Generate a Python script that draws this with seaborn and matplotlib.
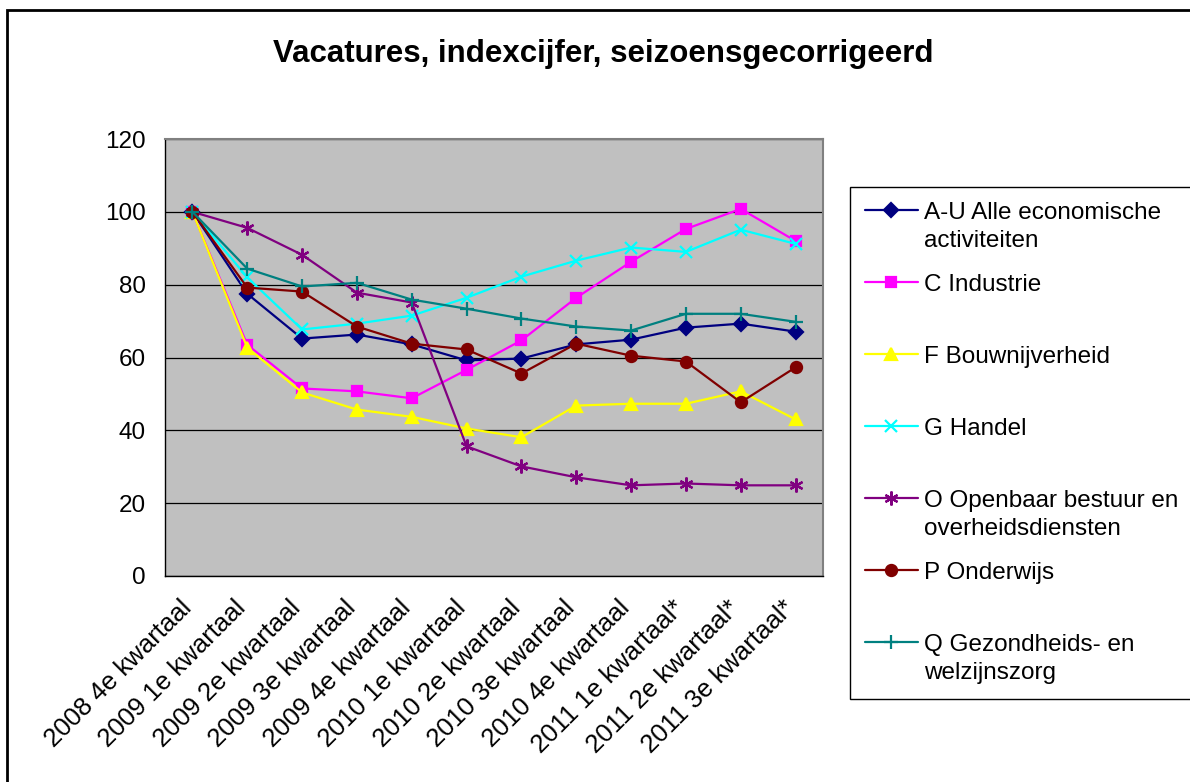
import numpy as np
import pandas as pd
import matplotlib.pyplot as plt
import seaborn as sns
from matplotlib.lines import Line2D
from matplotlib.legend_handler import HandlerLine2D
from matplotlib.patches import Rectangle

sns.set_style("white")
plt.rcParams['font.family'] = ['Liberation Sans', 'DejaVu Sans']
plt.rcParams['text.color'] = 'black'
plt.rcParams['xtick.color'] = 'black'
plt.rcParams['ytick.color'] = 'black'

kwartalen = ['2008 4e kwartaal', '2009 1e kwartaal', '2009 2e kwartaal', '2009 3e kwartaal',
             '2009 4e kwartaal', '2010 1e kwartaal', '2010 2e kwartaal', '2010 3e kwartaal',
             '2010 4e kwartaal', '2011 1e kwartaal*', '2011 2e kwartaal*', '2011 3e kwartaal*']

alle = [100, 77.5, 65.2, 66.3, 63.6, 59.2, 59.7, 63.6, 64.9, 68.2, 69.3, 67.1]
industrie = [100, 63.5, 51.5, 50.7, 48.8, 56.6, 64.7, 76.4, 86.3, 95.3, 100.8, 92.0]
bouw = [100, 62.7, 50.4, 45.7, 43.7, 40.5, 38.1, 46.8, 47.3, 47.3, 50.7, 43.0]
handel = [100, 82.0, 67.7, 69.3, 71.5, 76.4, 82.2, 86.6, 90.2, 89.0, 95.1, 91.2]
openbaar = [100, 95.6, 88.2, 77.8, 75.1, 35.6, 30.1, 27.1, 24.9, 25.4, 24.9, 24.9]
onderwijs = [100, 79.2, 78.1, 68.5, 63.8, 62.2, 55.6, 63.8, 60.5, 58.9, 47.7, 57.3]
zorg = [100, 84.4, 79.5, 80.5, 75.9, 73.4, 70.7, 68.5, 67.4, 72.0, 72.0, 69.8]

namen = ['A-U Alle economische\nactiviteiten', 'C Industrie\n ', 'F Bouwnijverheid\n ',
         'G Handel\n ', 'O Openbaar bestuur en\noverheidsdiensten', 'P Onderwijs\n ',
         'Q Gezondheids- en\nwelzijnszorg']
reeksen = [alle, industrie, bouw, handel, openbaar, onderwijs, zorg]
kleuren = ['#000080', '#FF00FF', '#FFFF00', '#00FFFF', '#800080', '#800000', '#008080']
markers = ['D', 's', '^', 'x', (6, 2, 0), 'o', '+']
msizes = [7.5, 7, 8.5, 9, 10, 8, 10]


class FirstLineHandler(HandlerLine2D):
    # legend symbol op hoogte van de eerste tekstregel
    def create_artists(self, legend, orig_handle, xdescent, ydescent, width, height, fontsize, trans):
        artists = super().create_artists(legend, orig_handle, xdescent, ydescent,
                                         width, height, fontsize, trans)
        for a in artists:
            a.set_ydata(np.asarray(a.get_ydata()) + 0.7 * fontsize)
        return artists


fig = plt.figure(figsize=(11.9, 7.82), dpi=100)
ax = fig.add_axes([165 / 1190, 1 - 576 / 782, (823 - 165) / 1190, (576 - 139) / 782])
ax.set_facecolor('#C0C0C0')

for naam, waarden, kleur, m, ms in zip(namen, reeksen, kleuren, markers, msizes):
    sns.lineplot(x=kwartalen, y=waarden, ax=ax, color=kleur, linewidth=1.6,
                 marker=m, markersize=ms, markeredgecolor=kleur, markerfacecolor=kleur,
                 markeredgewidth=1.6, label=naam, legend=False, sort=False, errorbar=None)

ax.set_ylim(0, 120)
ax.set_yticks(range(0, 121, 20))
ax.set_xlim(-0.5, 11.5)
ax.set_xticks(range(len(kwartalen)))
ax.set_xticklabels(kwartalen, rotation=45, ha='right', va='baseline', rotation_mode='anchor')
ax.set_xticks(np.arange(-0.5, len(kwartalen), 1), minor=True)
ax.tick_params(axis='x', which='major', length=0, pad=24, labelsize=18.5)
ax.tick_params(axis='x', which='minor', length=6, width=1, direction='out', color='black')
ax.tick_params(axis='y', length=6, width=1, direction='out', color='black', pad=8, labelsize=17.5)
ax.set_xlabel('')
ax.set_ylabel('')

ax.yaxis.grid(True, color='black', linewidth=0.9)
ax.set_axisbelow(True)
for kant in ['top', 'right']:
    ax.spines[kant].set_color('#808080')
    ax.spines[kant].set_linewidth(1.5)
for kant in ['left', 'bottom']:
    ax.spines[kant].set_color('black')
    ax.spines[kant].set_linewidth(1)

handles, labels = ax.get_legend_handles_labels()
leg = ax.legend(handles, labels, loc='upper left', bbox_to_anchor=(850 / 1190, 1 - 187 / 782),
                bbox_transform=fig.transFigure, frameon=True, fancybox=False, edgecolor='black',
                framealpha=1, fontsize=17.5, handlelength=2.2, handletextpad=0.25,
                borderpad=0.6, labelspacing=0.91, borderaxespad=0,
                handler_map={Line2D: FirstLineHandler()})
leg.get_frame().set_linewidth(1)
for t in leg.get_texts():
    t.set_linespacing(1.35)

fig.text(0.507, 1 - 54 / 782, 'Vacatures, indexcijfer, seizoensgecorrigeerd',
         fontsize=22.5, fontweight='bold', ha='center', va='center')

# rand om de grafiek (alleen boven en links zichtbaar)
rand = Rectangle((7 / 1190, -0.5), 2, 0.5 + 1 - 10 / 782, transform=fig.transFigure,
                 fill=False, edgecolor='black', linewidth=2, clip_on=False)
fig.add_artist(rand)

fig.savefig('out.png', dpi=100)
